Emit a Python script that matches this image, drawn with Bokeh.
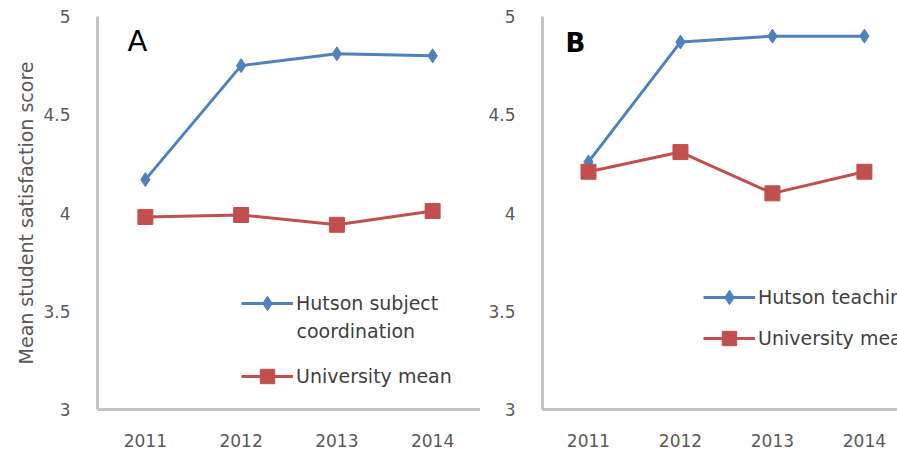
from bokeh.plotting import figure
from bokeh.layouts import row
from bokeh.models import (Range1d, FixedTicker, NumeralTickFormatter, Legend, LegendItem, Label)
from bokeh.embed import file_html
from bokeh.resources import INLINE

years = [2011, 2012, 2013, 2014]
a_hutson = [4.17, 4.75, 4.81, 4.80]
a_univ = [3.98, 3.99, 3.94, 4.01]
b_hutson = [4.26, 4.87, 4.90, 4.90]
b_univ = [4.21, 4.31, 4.10, 4.21]
y_ticks = [3, 3.5, 4, 4.5, 5]
a_labels = ["Hutson subject", "University mean"]
a_label_extra = "coordination"
b_labels = ["Hutson teaching", "University mean"]
y_title = "Mean student satisfaction score"

BLUE = "#4F81BD"
RED = "#C0504D"
AXIS = "#C4C4C4"
TICK_TXT = "#595959"
LEG_TXT = "#404040"
FONT = "DejaVu Sans"
H = 451


def make_panel(width, x_end, left_border, hut, uni, title_y):
    p = figure(width=width, height=H, output_backend="svg", toolbar_location=None,
               x_range=Range1d(2010.5, x_end), y_range=Range1d(3, 5),
               min_border_left=left_border, min_border_right=0,
               min_border_top=16, min_border_bottom=42,
               outline_line_color=None)
    p.xgrid.visible = False
    p.ygrid.visible = False
    for ax in (p.xaxis[0], p.yaxis[0]):
        ax.axis_line_color = AXIS
        ax.axis_line_width = 3
        ax.major_tick_line_color = None
        ax.minor_tick_line_color = None
        ax.major_label_text_color = TICK_TXT
        ax.major_label_text_font = FONT
        ax.major_label_text_font_size = "17px"
    p.xaxis.ticker = FixedTicker(ticks=years)
    p.xaxis.formatter = NumeralTickFormatter(format="0")
    p.xaxis.major_label_standoff = 18
    p.yaxis.ticker = FixedTicker(ticks=y_ticks)
    p.yaxis.formatter = NumeralTickFormatter(format="0.[0]")
    p.yaxis.major_label_standoff = 21
    if title_y:
        p.yaxis.axis_label = title_y
        p.yaxis.axis_label_text_font = FONT
        p.yaxis.axis_label_text_font_style = "normal"
        p.yaxis.axis_label_text_font_size = "19px"
        p.yaxis.axis_label_text_color = TICK_TXT
        p.yaxis.axis_label_standoff = 3
    l1 = p.line(years, hut, line_color=BLUE, line_width=3)
    s1 = p.scatter(years, hut, marker="diamond", size=14, fill_color=BLUE, line_color=BLUE)
    l2 = p.line(years, uni, line_color=RED, line_width=3)
    s2 = p.scatter(years, uni, marker="square", size=15, fill_color=RED, line_color=RED)
    return p, (l1, s1), (l2, s2)


pa, ha, ua = make_panel(480, 2014.5, 97, a_hutson, a_univ, y_title)
pb, hb, ub = make_panel(417, 2014.36, 62, b_hutson, b_univ, None)


def add_legend(p, labels, items_r, loc, spacing):
    leg = Legend(items=[LegendItem(label=labels[0], renderers=list(items_r[0])),
                        LegendItem(label=labels[1], renderers=list(items_r[1]))],
                 location=loc, orientation="vertical",
                 padding=0, margin=0, spacing=spacing,
                 glyph_width=52, glyph_height=36, label_height=36, label_standoff=3,
                 border_line_color=None, background_fill_alpha=0,
                 label_text_font=FONT, label_text_font_size="19px",
                 label_text_color=LEG_TXT)
    p.add_layout(leg, "center")


add_legend(pa, a_labels, [ha, ua], (144, 15), 37)
add_legend(pb, b_labels, [hb, ub], (161, 53), 5)

pa.add_layout(Label(x=199, y=79, x_units="screen", y_units="screen", text=a_label_extra,
                    text_font=FONT, text_font_size="19px", text_color=LEG_TXT,
                    text_baseline="middle"))

pa.add_layout(Label(x=40, y=369, x_units="screen", y_units="screen", text="A",
                    text_font=FONT, text_font_size="29px", text_color="black",
                    text_align="center", text_baseline="middle"))
pb.add_layout(Label(x=33, y=367, x_units="screen", y_units="screen", text="B",
                    text_font=FONT, text_font_size="26px", text_color="black",
                    text_font_style="bold", text_align="center", text_baseline="middle"))

layout = row(pa, pb)
open("out.html", "w").write(file_html(layout, INLINE))
